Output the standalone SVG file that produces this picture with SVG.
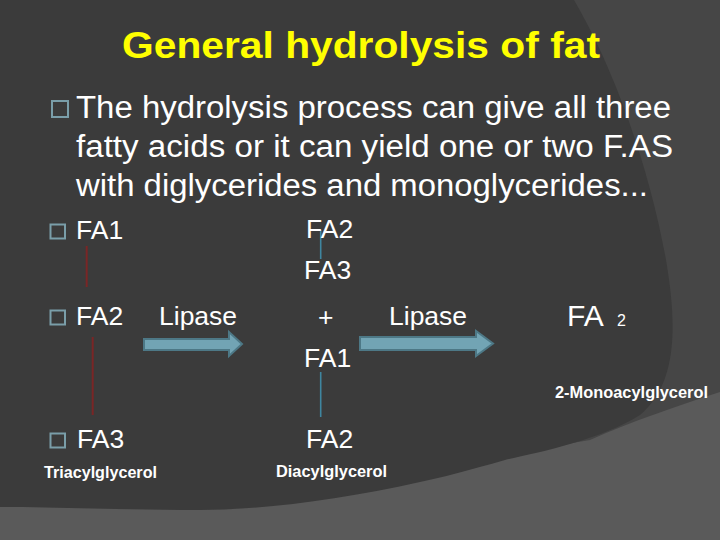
<svg xmlns="http://www.w3.org/2000/svg" width="720" height="540" viewBox="0 0 720 540">
  <style>
    .title { font-family: "Liberation Sans", Arial, sans-serif; font-weight: bold; font-size: 37px; fill: #ffff00; }
    .body { font-family: "Liberation Sans", Arial, sans-serif; font-size: 31px; fill: #ffffff; }
    .fa { font-family: "Liberation Sans", Arial, sans-serif; font-size: 26.5px; fill: #ffffff; }
    .lbl { font-family: "Liberation Sans", Arial, sans-serif; font-weight: bold; font-size: 17px; fill: #ffffff; }
    .bullet { fill: none; stroke: #7a9ea9; stroke-width: 2; }
    .red { stroke: #7a2626; stroke-width: 2; }
    .blue { stroke: #3f86a0; stroke-width: 1.6; }
    .arrow { fill: #72a4b4; stroke: #4d7886; stroke-width: 2; stroke-linejoin: miter; }
  </style>

  <!-- background -->
  <rect x="0" y="0" width="720" height="540" fill="#5a5a5a"/>
  <path d="M 560 0 L 720 0 L 720 392 C 680 405, 630 422, 590 440 L 560 445 Z" fill="#464646"/>
  <path d="M 0 0 L 574 0 C 615 70, 650 170, 666 260 C 678 330, 676 385, 640 415 C 600 440, 540 452, 505 460 C 470 470, 440 478, 420 482 C 340 500, 260 510, 200 510 C 120 510, 60 507, 0 507 Z" fill="#3b3b3b"/>

  <g id="title">
    <text class="title" x="122" y="57.5" textLength="478" lengthAdjust="spacingAndGlyphs">General hydrolysis of fat</text>
  </g>

  <g id="intro">
    <rect class="bullet" x="52" y="101" width="16" height="16"/>
    <text class="body" x="76" y="118" textLength="595" lengthAdjust="spacingAndGlyphs">The hydrolysis process can give all three</text>
    <text class="body" x="76" y="157" textLength="597" lengthAdjust="spacingAndGlyphs">fatty acids or it can yield one or two F.AS</text>
    <text class="body" x="76" y="196" textLength="572" lengthAdjust="spacingAndGlyphs">with diglycerides and monoglycerides...</text>
  </g>

  <g id="connectors">
    <line class="red" x1="86.7" y1="246" x2="86.7" y2="287"/>
    <line class="red" x1="92.7" y1="337" x2="92.7" y2="415"/>
    <line class="blue" x1="320.7" y1="230" x2="320.7" y2="259"/>
    <line class="blue" x1="320.7" y1="372" x2="320.7" y2="417"/>
    <path class="arrow" d="M 144 339 L 229 339 L 229 332 L 242 344 L 229 356 L 229 350 L 144 350 Z"/>
    <path class="arrow" d="M 360 337 L 476 337 L 476 331 L 493 343.5 L 476 356 L 476 350 L 360 350 Z"/>
  </g>

  <g id="triacylglycerol">
    <rect class="bullet" x="50.5" y="224.5" width="14.5" height="14"/>
    <text class="fa" x="76" y="239">FA1</text>
    <rect class="bullet" x="50.5" y="310.5" width="14.5" height="14"/>
    <text class="fa" x="76" y="325">FA2</text>
    <rect class="bullet" x="50.5" y="433.5" width="14.5" height="14"/>
    <text class="fa" x="77" y="448">FA3</text>
    <text class="lbl" x="44" y="478" textLength="113" lengthAdjust="spacingAndGlyphs">Triacylglycerol</text>
  </g>

  <g id="lipase1">
    <text class="fa" x="159" y="325">Lipase</text>
  </g>

  <g id="diacylglycerol">
    <text class="fa" x="306" y="238">FA2</text>
    <text class="fa" x="304" y="279">FA3</text>
    <text class="fa" x="318" y="326">+</text>
    <text class="fa" x="304" y="367">FA1</text>
    <text class="fa" x="306" y="448">FA2</text>
    <text class="lbl" x="276" y="477" textLength="111" lengthAdjust="spacingAndGlyphs">Diacylglycerol</text>
  </g>

  <g id="lipase2">
    <text class="fa" x="389" y="325">Lipase</text>
  </g>

  <g id="monoacylglycerol">
    <text style="font-family: 'Liberation Sans', Arial, sans-serif; font-size: 30px; fill: #ffffff;" x="567" y="326">FA</text>
    <text style="font-family: 'Liberation Sans', Arial, sans-serif; font-size: 16px; fill: #ffffff;" x="617" y="326">2</text>
    <text class="lbl" x="555" y="398" textLength="153" lengthAdjust="spacingAndGlyphs">2-Monoacylglycerol</text>
  </g>
</svg>
